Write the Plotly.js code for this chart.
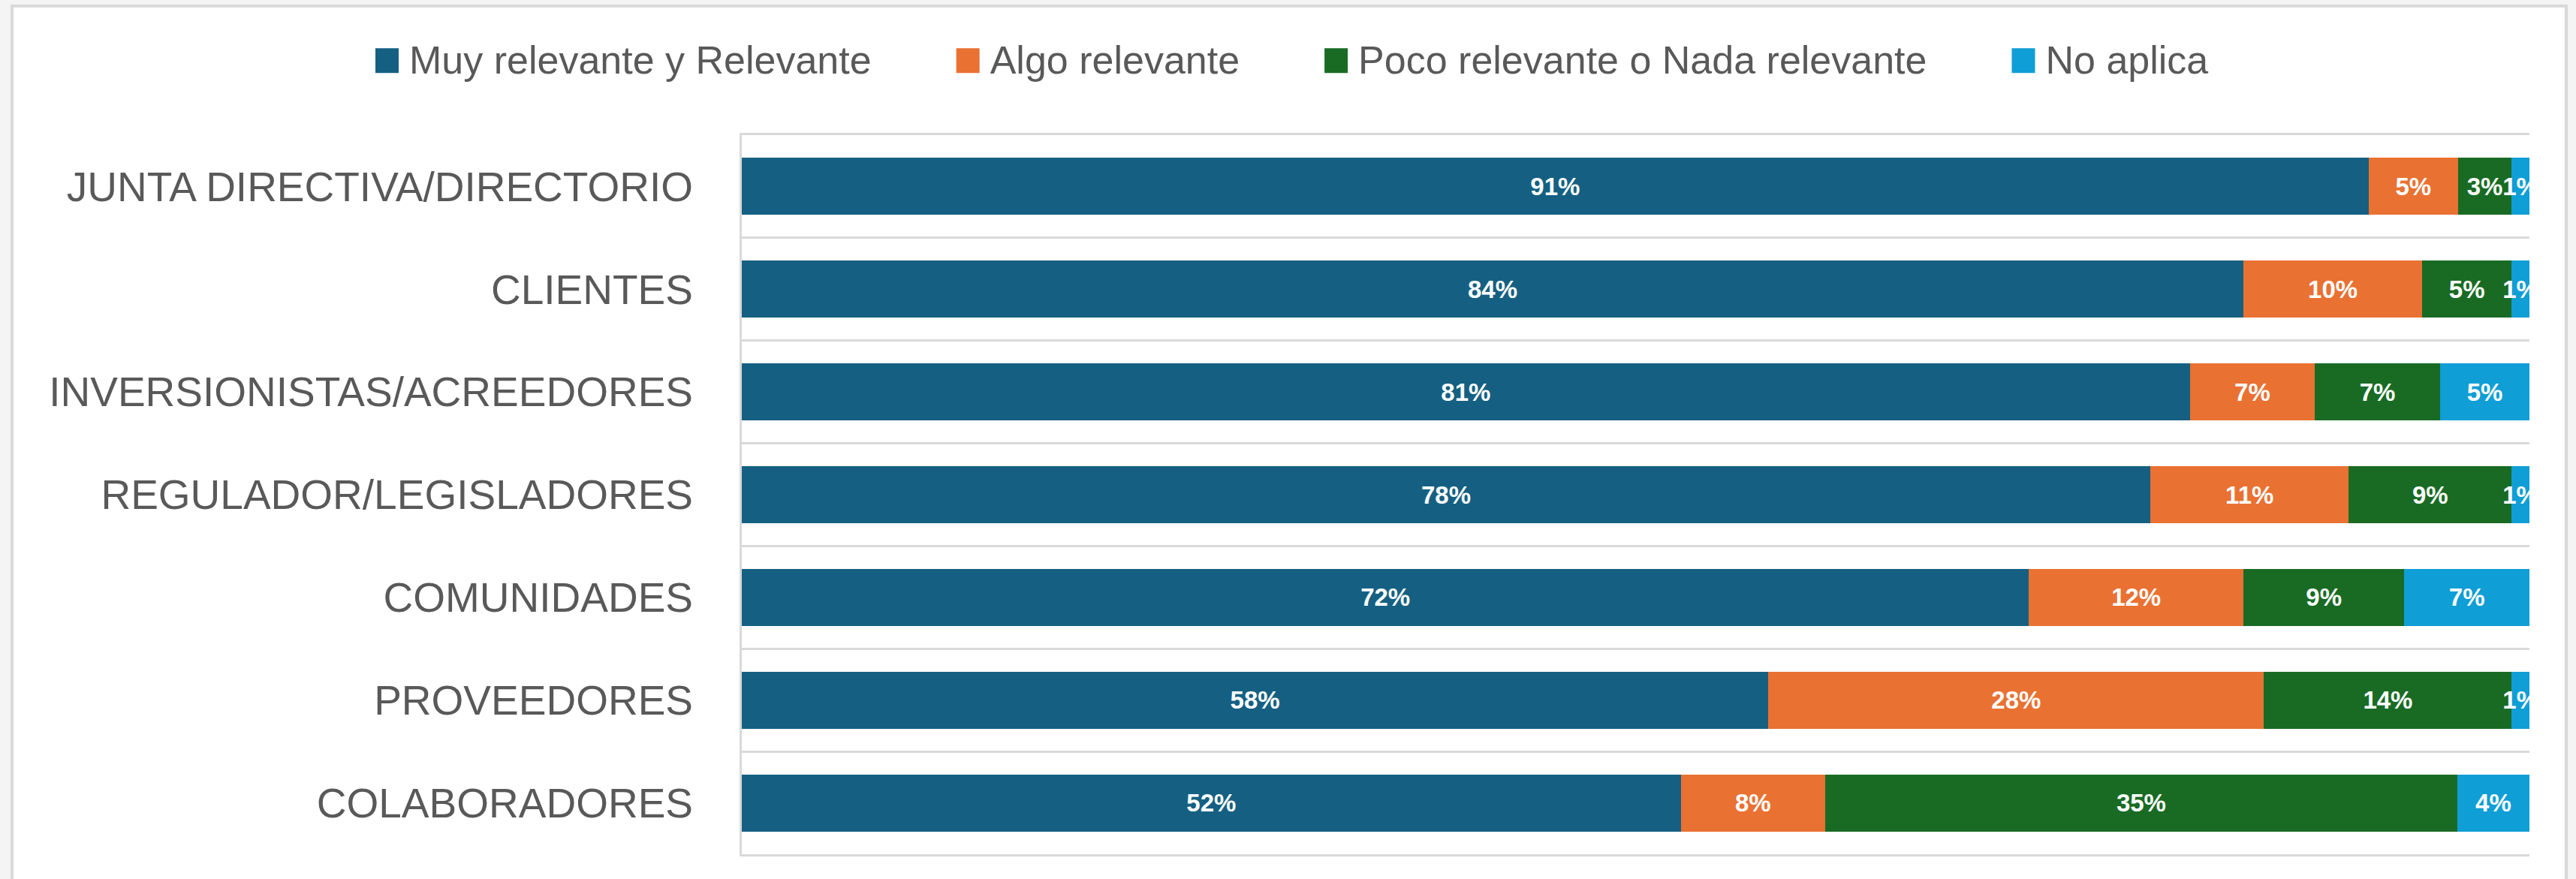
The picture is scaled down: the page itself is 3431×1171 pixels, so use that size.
<!DOCTYPE html>
<html>
<head>
<meta charset="utf-8">
<script src="https://cdn.plot.ly/plotly-3.0.1.min.js"></script>
<style>
  html, body { margin: 0; padding: 0; background: #f4f4f4; overflow: hidden; width: 3431px; height: 1171px; }
  #frame { position: absolute; left: 14px; top: 6px; width: 3398px; height: 1170px; border: 4px solid #d9d9d9; background: #ffffff; }
  #chart { width: 3398px; height: 1165px; }
</style>
</head>
<body>
<div id="frame"><div id="chart"></div></div>
<script>
// Categories (top to bottom)
const categories = [
  "JUNTA DIRECTIVA/DIRECTORIO",
  "CLIENTES",
  "INVERSIONISTAS/ACREEDORES",
  "REGULADOR/LEGISLADORES",
  "COMUNIDADES",
  "PROVEEDORES",
  "COLABORADORES"
];
// Series values (%)
const muyRelevante   = [91, 84, 81, 78, 72, 58, 52];
const algoRelevante  = [5, 10, 7, 11, 12, 28, 8];
const pocoRelevante  = [3, 5, 7, 9, 9, 14, 35];
const noAplica       = [1, 1, 5, 1, 7, 1, 4];
const seriesNames = ["Muy relevante y Relevante", "Algo relevante", "Poco relevante o Nada relevante", "No aplica"];
const seriesColors = ["#156082", "#E97132", "#196B24", "#0F9ED5"];
const seriesValues = [muyRelevante, algoRelevante, pocoRelevante, noAplica];

const FONT = "Liberation Sans, Arial, sans-serif";

const traces = seriesValues.map((vals, i) => ({
  type: "bar",
  orientation: "h",
  name: seriesNames[i],
  y: categories,
  x: vals,
  text: vals.map(v => v + "%"),
  textposition: "inside",
  insidetextanchor: "middle",
  textangle: 0,
  textfont: { family: FONT, size: 33, color: "#ffffff", weight: "bold" },
  marker: { color: seriesColors[i], line: { width: 0 } },
  hoverinfo: "skip"
}));

const W = 3398, H = 1165;
const margin = { l: 970, r: 47, t: 170, b: 37, pad: 0, autoexpand: false };
const plotW = W - margin.l - margin.r;
const plotH = H - margin.t - margin.b;

const ITEMW = 143;
const legendLeftPx = 527 - (ITEMW + 10);
const legendMidPx = 68;

const layout = {
  width: W,
  height: H,
  margin: margin,
  paper_bgcolor: "#ffffff",
  plot_bgcolor: "#ffffff",
  barmode: "stack",
  barnorm: "percent",
  bargap: 0.445,
  showlegend: true,
  legend: {
    orientation: "h",
    x: (legendLeftPx - margin.l) / plotW,
    xanchor: "left",
    y: 1 + (margin.t - legendMidPx) / plotH,
    yanchor: "middle",
    itemwidth: ITEMW,
    font: { family: FONT, size: 52, color: "#595959" },
    bgcolor: "rgba(0,0,0,0)",
    traceorder: "normal"
  },
  xaxis: {
    range: [0, 100],
    showgrid: false,
    zeroline: false,
    showticklabels: false,
    showline: true,
    mirror: true,
    linecolor: "#d9d9d9",
    linewidth: 3,
    ticks: "",
    fixedrange: true
  },
  yaxis: {
    type: "category",
    categoryorder: "array",
    categoryarray: categories,
    range: [categories.length - 0.5, -0.5],
    tickson: "boundaries",
    showgrid: true,
    gridcolor: "#d9d9d9",
    gridwidth: 3,
    showline: true,
    linecolor: "#d9d9d9",
    linewidth: 3,
    ticks: "",
    ticklabelstandoff: 51,
    tickfont: { family: FONT, size: 55, color: "#595959" },
    zeroline: false,
    fixedrange: true
  },
  uniformtext: { mode: "show", minsize: 33 }
};

Plotly.newPlot("chart", traces, layout, { displayModeBar: false, staticPlot: true }).then(gd => {
  // Enlarge legend swatches to match the reference square markers
  const textGap = ITEMW + 10;
  gd.querySelectorAll(".legend .traces").forEach(tr => {
    tr.querySelectorAll(".legendpoints path").forEach(p => {
      p.setAttribute("d", "M-15.5,-16.5H15.5V16.5H-15.5Z");
      p.setAttribute("transform", "translate(" + (textGap - 14 - 15.5) + ",3)");
    });
  });
});
</script>
</body>
</html>
